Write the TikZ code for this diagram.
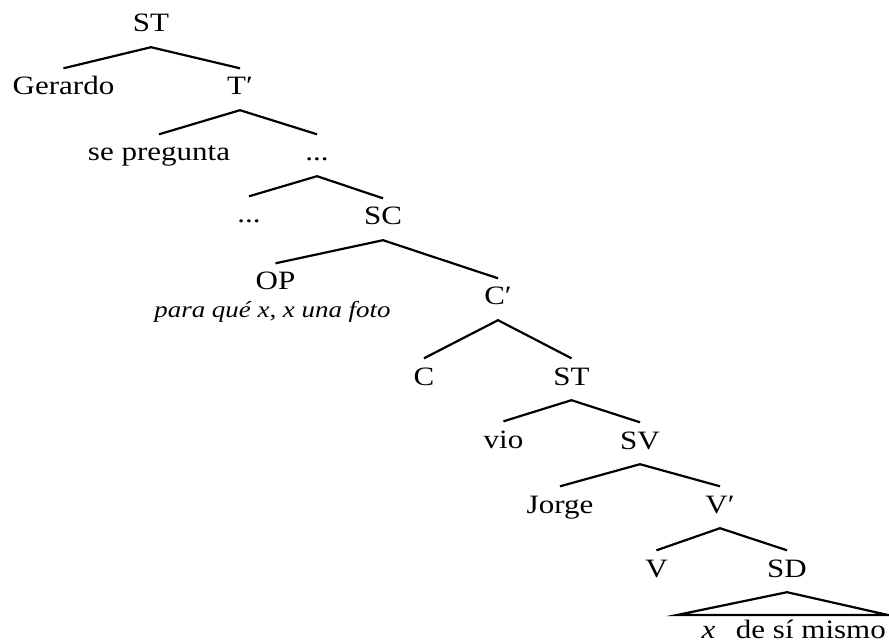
\documentclass[tikz,border=0pt]{standalone}
\usepackage{fontspec}
\setmainfont{Liberation Serif}[FakeStretch=1.17]
\begin{document}
\begin{tikzpicture}[x=1pt,y=-1pt,
  lab/.style={font=\fontsize{26.5}{30}\selectfont, text height=18pt, text depth=6.5pt,
              inner xsep=0pt, inner ysep=8.5pt, anchor=base},
  gloss/.style={font=\fontsize{23}{27}\selectfont\itshape, inner sep=0pt, anchor=base},
  branch/.style={line width=2.2pt}]
\useasboundingbox (0,0) rectangle (889,644);
% nodes
\node[lab] (st1) at (151,32) {ST};
\node[lab] (gerardo) at (63.5,95) {Gerardo};
\node[lab] (tbar) at (240,95) {T′};
\node[lab] (sepregunta) at (159,161) {se pregunta};
\node[lab] (dots1) at (317,161) {...};
\node[lab] (dots2) at (249,223) {...};
\node[lab] (sc) at (383,225) {SC};
\node[lab] (op) at (275.5,290) {OP};
\node[gloss] (opgloss) at (272.5,318) {para qué x, x una foto};
\node[lab] (cbar) at (498,305) {C′};
\node[lab] (c) at (424,385) {C};
\node[lab] (st2) at (571.5,385) {ST};
\node[lab] (vio) at (503.5,448) {vio};
\node[lab] (sv) at (640,449) {SV};
\node[lab] (jorge) at (560,513) {Jorge};
\node[lab] (vbar) at (720,513) {V′};
\node[lab] (v) at (656.5,577) {V};
\node[lab] (sd) at (787,577) {SD};
\coordinate (tl) at (677,615);
\coordinate (tr) at (888,615);
\node[lab, font=\fontsize{26.5}{30}\selectfont\itshape] (xvar) at (708.5,638) {x};
\node[lab, anchor=base east] (desimismo) at (886,638) {de sí mismo};
% branches
\draw[branch] (gerardo.north) -- (st1.south) -- (tbar.north);
\draw[branch] (sepregunta.north) -- (tbar.south) -- (dots1.north);
\draw[branch] (dots2.north) -- (dots1.south) -- (sc.north);
\draw[branch] (op.north) -- (sc.south) -- (cbar.north);
\draw[branch] (c.north) -- (cbar.south) -- (st2.north);
\draw[branch] (vio.north) -- (st2.south) -- (sv.north);
\draw[branch] (jorge.north) -- (sv.south) -- (vbar.north);
\draw[branch] (v.north) -- (vbar.south) -- (sd.north);
\draw[branch] (tl) -- (sd.south) -- (tr) -- cycle;
\end{tikzpicture}
\end{document}
